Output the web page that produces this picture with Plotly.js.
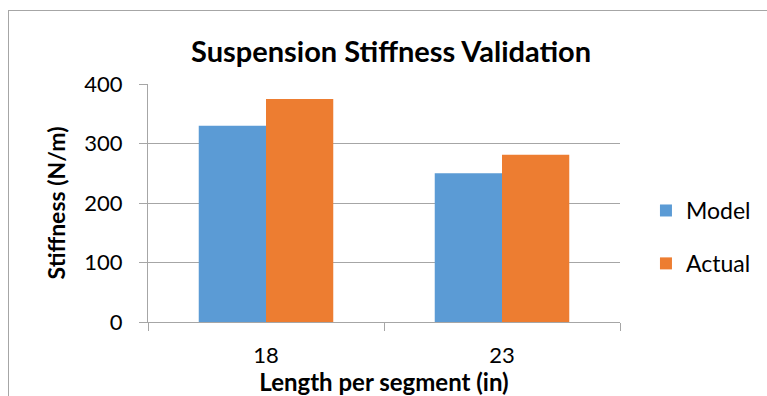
<!DOCTYPE html>
<html>
<head>
<meta charset="utf-8">
<script src="https://cdn.plot.ly/plotly-3.0.1.min.js"></script>
<style>
  html, body { margin: 0; padding: 0; background: #fff; overflow: hidden; }
  #wrap { position: relative; width: 767px; height: 396px; }
  #frame { position: absolute; left: 8px; top: 10px; width: 900px; height: 500px;
           border-left: 1px solid #a6a6a6; border-top: 1px solid #a6a6a6; pointer-events: none; }
  #chart { position: absolute; left: 0; top: 0; width: 767px; height: 396px; }
</style>
</head>
<body>
<div id="wrap">
  <div id="chart"></div>
  <div id="frame"></div>
</div>
<script>
// Segment lengths (inches) and measured stiffness values (N/m)
const categories = ['18', '23'];
const modelValues = [330, 250];
const actualValues = [375, 281];
const yTickValues = [0, 100, 200, 300, 400];

const FONT = 'Lato, "Open Sans", sans-serif';
const GRID = '#a6a6a6';

const traces = [
  {
    type: 'bar', name: 'Model', x: categories, y: modelValues,
    marker: { color: '#5b9bd5' }, legendgroup: 'm', hoverinfo: 'skip'
  },
  {
    type: 'bar', name: 'Actual', x: categories, y: actualValues,
    marker: { color: '#ed7d31' }, legendgroup: 'a', hoverinfo: 'skip'
  }
];

const layout = {
  width: 767, height: 396,
  margin: { l: 148, r: 147, t: 84, b: 74, autoexpand: false },
  paper_bgcolor: 'rgba(0,0,0,0)', plot_bgcolor: '#fff',
  font: { family: FONT, color: '#000', size: 22 },
  title: {
    text: '<b>Suspension Stiffness Validation</b>',
    font: { family: FONT, size: 29, color: '#000' },
    x: 0.515, xanchor: 'center', xref: 'paper',
    y: 1 - 52 / 396, yanchor: 'middle', yref: 'container'
  },
  barmode: 'group', bargap: 0.43, bargroupgap: 0,
  xaxis: {
    type: 'category',
    showline: true, linecolor: GRID, linewidth: 1,
    ticks: 'outside', tickson: 'boundaries', ticklen: 8, tickcolor: GRID,
    ticklabelstandoff: 14,
    tickfont: { family: FONT, size: 22 },
    showgrid: false, zeroline: false,
    title: { text: '<b>Length per segment (in)</b>', font: { family: FONT, size: 24 }, standoff: 1 },
    automargin: false
  },
  yaxis: {
    range: [0, 400], tickvals: yTickValues, ticktext: yTickValues.map(String),
    showline: true, linecolor: GRID, linewidth: 1,
    ticks: 'outside', ticklen: 8, tickcolor: GRID,
    ticklabelstandoff: 12,
    tickfont: { family: FONT, size: 22 },
    showgrid: true, gridcolor: GRID, gridwidth: 1, zeroline: false,
    title: { text: '<b>Stiffness (N/m)</b>', font: { family: FONT, size: 23 }, standoff: 12 },
    automargin: false
  },
  showlegend: true,
  legend: {
    x: 1.055, xanchor: 'left', y: 0.357, yanchor: 'middle',
    font: { family: FONT, size: 23 }, tracegroupgap: 20,
    itemwidth: 30, bgcolor: 'rgba(0,0,0,0)', traceorder: 'grouped'
  }
};

Plotly.newPlot('chart', traces, layout, { staticPlot: true, displayModeBar: false });
</script>
</body>
</html>
